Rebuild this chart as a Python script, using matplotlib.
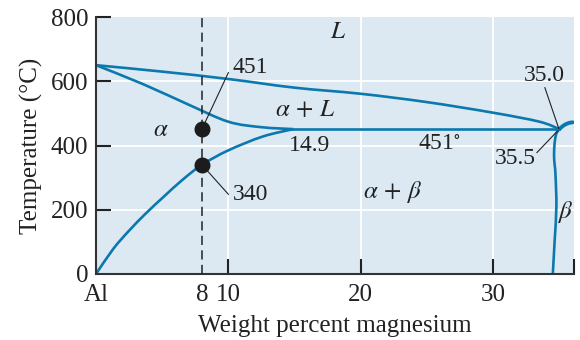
import numpy as np
import matplotlib
matplotlib.use("Agg")
import matplotlib.pyplot as plt
from matplotlib.path import Path
from matplotlib.patches import PathPatch

plt.rcParams["font.family"] = ["Liberation Serif", "DejaVu Serif"]
plt.rcParams["mathtext.fontset"] = "stix"

# Al–Mg phase boundaries (wt% Mg, temperature in °C)
liquidus_x = [0, 5, 10, 15, 20, 25, 30, 33.5, 35.0]
liquidus_t = [650, 630, 607, 580, 561, 535, 502, 474, 451]

solidus_x = [0, 3.5, 7.0, 10.0, 12.5, 14.9]
solidus_t = [650, 592, 527, 474, 457, 451]

solvus_x = [0, 1.3, 2.5, 3.8, 5.1, 6.5, 8.0, 10.0, 12.6, 14.9]
solvus_t = [0, 78, 135, 190, 240, 292, 340, 385, 428, 451]

beta_liq_x = [35.0, 35.3, 35.7, 36.0]
beta_liq_t = [451, 462, 470, 472]

beta_solvus_x = [35.0, 34.75, 34.62, 34.6, 34.7, 34.77, 34.64, 34.5]
beta_solvus_t = [451, 435, 400, 360, 310, 210, 105, 0]

eutectic_x = [14.9, 35.0]
eutectic_t = 451

alloy_x = 8
alloy_points_t = [451, 340]

x_ticks = [0, 8, 10, 20, 30, 36.1]
x_tick_labels = ["Al", "8", "10", "20", "30", ""]
y_ticks = [0, 200, 400, 600, 800]

blue = "#0b78ae"
bg = "#dce9f3"
tc = "#222222"


def smooth_path(xs, ys):
    """Catmull-Rom curve through the points, as cubic Bezier segments."""
    pts = np.column_stack([xs, ys]).astype(float)
    n = len(pts)
    verts = [pts[0]]
    codes = [Path.MOVETO]
    for i in range(n - 1):
        p0 = pts[i - 1] if i > 0 else pts[i]
        p1, p2 = pts[i], pts[i + 1]
        p3 = pts[i + 2] if i + 2 < n else pts[i + 1]
        verts += [p1 + (p2 - p0) / 6, p2 - (p3 - p1) / 6, p2]
        codes += [Path.CURVE4] * 3
    return Path(verts, codes)


def boundary(ax, xs, ys, lw, **kw):
    ax.add_patch(PathPatch(smooth_path(xs, ys), fill=False, edgecolor=blue,
                           lw=lw, zorder=2, **kw))


fig = plt.figure(figsize=(5.8, 3.4), dpi=100)
ax = fig.add_axes([96 / 580, 1 - 274 / 340, 478 / 580, 257 / 340])
ax.set_facecolor(bg)
ax.set_xlim(0, 36.1)
ax.set_ylim(0, 800)

# white grid at the labelled round values
for gx in [10, 20, 30]:
    ax.axvline(gx, color="white", lw=1.3, zorder=0.5)
for gy in [200, 400, 600]:
    ax.axhline(gy, color="white", lw=1.3, zorder=0.5)

lw = 1.9
boundary(ax, liquidus_x, liquidus_t, lw)
boundary(ax, solidus_x, solidus_t, lw)
boundary(ax, solvus_x, solvus_t, lw)
boundary(ax, beta_liq_x, beta_liq_t, lw + 0.9, capstyle="round")
boundary(ax, beta_solvus_x, beta_solvus_t, lw)
ax.plot(eutectic_x, [eutectic_t, eutectic_t], color=blue, lw=lw, zorder=2)

# alloy composition line and its two critical points
ax.axvline(alloy_x, color=tc, lw=1.1, ls=(0, (6, 3.5)), zorder=3)
ax.plot([alloy_x] * len(alloy_points_t), alloy_points_t, "o",
        color="#1c1c1c", ms=10.5, zorder=5)

ax.plot([alloy_x, 10.0], [alloy_points_t[0], 627], color=tc, lw=0.8, zorder=4)
ax.text(10.3, 642, "451", fontsize=17, color=tc, va="center", ha="left")
ax.plot([alloy_x, 10.0], [alloy_points_t[1], 248], color=tc, lw=0.8, zorder=4)
ax.text(10.3, 248, "340", fontsize=17, color=tc, va="center", ha="left")

ax.text(14.6, 401, "14.9", fontsize=17, color=tc, va="center", ha="left")
ax.text(24.3, 401, "451$^{\\circ}$", fontsize=17, color=tc, va="center",
        ha="left")
ax.text(33.9, 618, "35.0", fontsize=17, color=tc, va="center", ha="center")
ax.plot([33.9, 34.95], [580, 453], color=tc, lw=0.8, zorder=4)
ax.text(31.7, 360, "35.5", fontsize=17, color=tc, va="center", ha="center")
ax.plot([33.3, 34.85], [378, 445], color=tc, lw=0.8, zorder=4)

# phase field labels
fs = 18
ax.text(18.3, 752, "$L$", fontsize=fs, color=tc, ha="center", va="center")
ax.text(4.9, 447, r"$\alpha$", fontsize=fs, color=tc, ha="center", va="center")
ax.text(15.8, 509, r"$\alpha\,+\,L$", fontsize=fs, color=tc, ha="center",
        va="center")
ax.text(22.4, 254, r"$\alpha\,+\,\beta$", fontsize=fs, color=tc, ha="center",
        va="center")
ax.text(35.45, 192, r"$\beta$", fontsize=fs, color=tc, ha="center",
        va="center")

# axes styling
for s in ["top", "right"]:
    ax.spines[s].set_visible(False)
for s in ["left", "bottom"]:
    ax.spines[s].set_color("#333333")
    ax.spines[s].set_linewidth(1.5)

ax.set_xticks(x_ticks)
ax.set_xticklabels(x_tick_labels)
ax.set_yticks(y_ticks)
ax.tick_params(axis="both", direction="in", length=10.5, width=1.5,
               color=tc, labelsize=18, labelcolor=tc)
ax.tick_params(axis="x", pad=7.5)
ax.tick_params(axis="y", pad=5.5)
xt = ax.xaxis.get_major_ticks()
xt[0].tick1line.set_visible(False)
xt[1].tick1line.set_visible(False)
ax.yaxis.get_major_ticks()[0].tick1line.set_visible(False)

ax.set_xlabel("Weight percent magnesium", fontsize=18, color=tc, labelpad=6)
ax.set_ylabel("Temperature (°C)", fontsize=18, color=tc, labelpad=6)

fig.savefig("out.png", dpi=100)
